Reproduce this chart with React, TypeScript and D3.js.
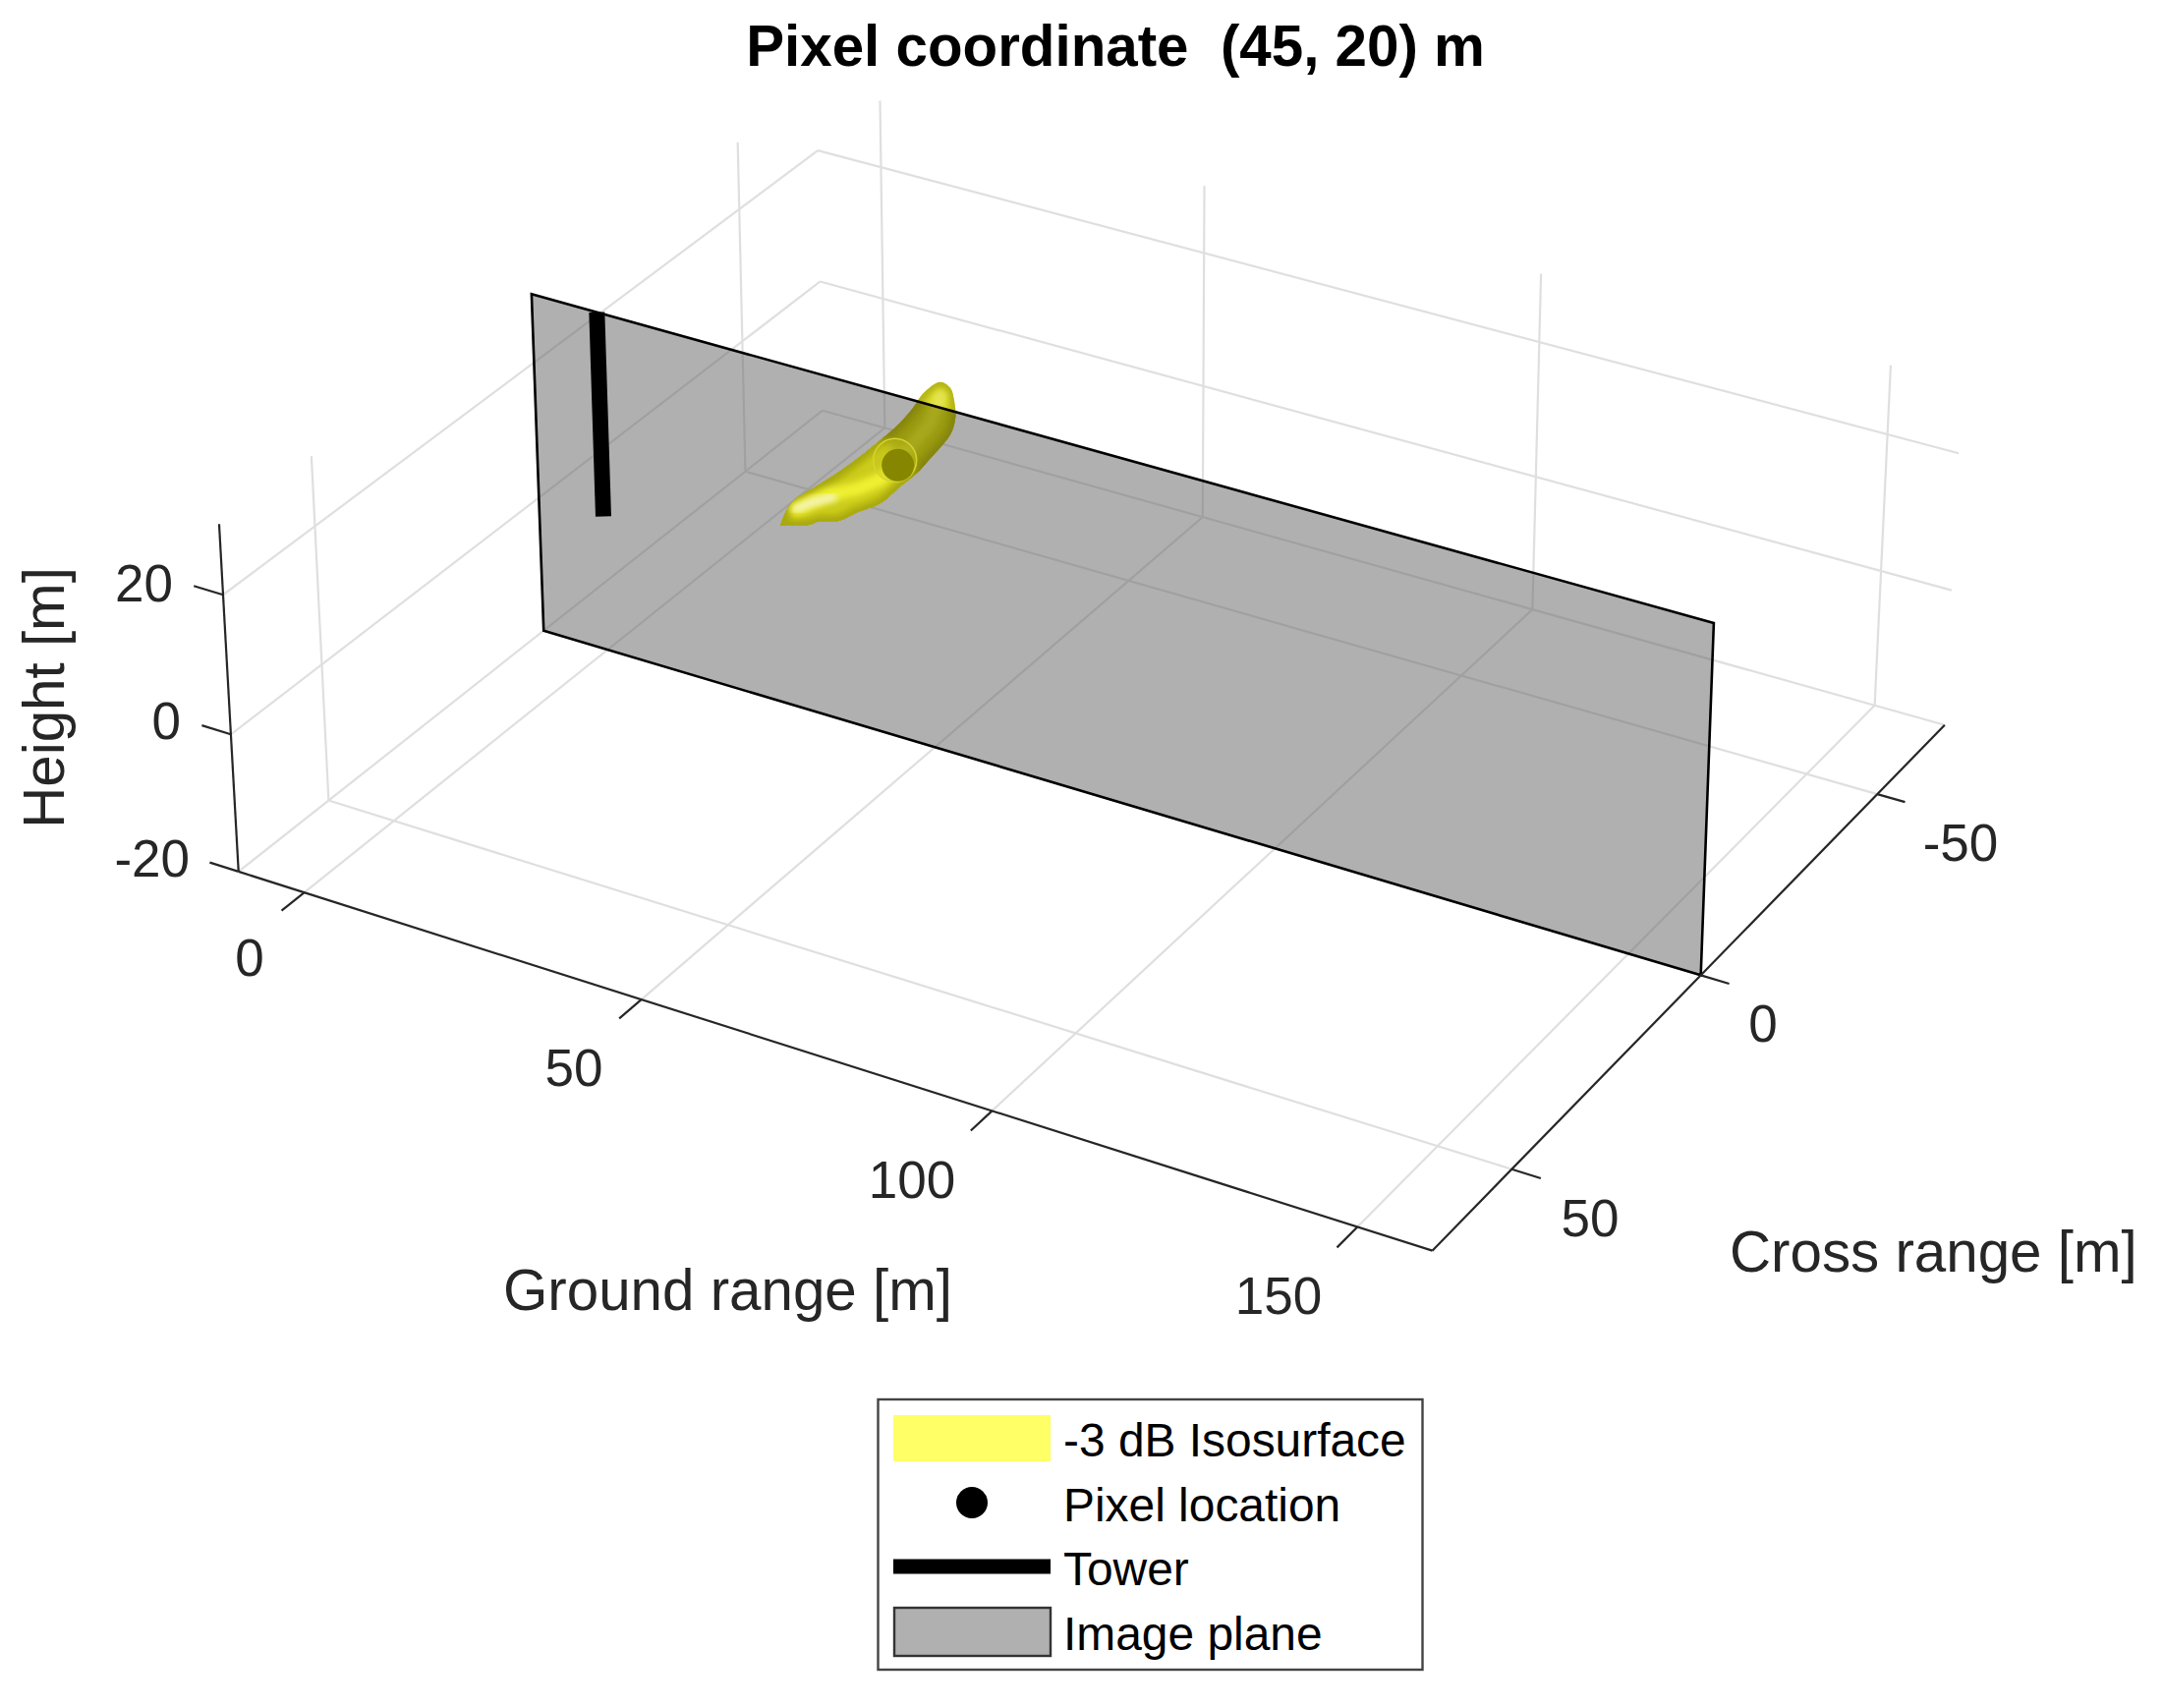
// @ts-nocheck
import { curveCatmullRomClosed, line, range, scaleLinear } from "d3";

const xTicks = [0, 50, 100, 150];
const yTicks = [-50, 0, 50];
const zTicks = [-20, 0, 20];
const xLimits = [-10, 160];
const yLimits = [-70, 70];
const zLimits = [-20, 30];

const pixelLocation = [45, 0, 20];
const towerX = 0;
const towerHeights = [0, 30];
const planeY = 0;

// isosurface, as [ground range, height] on the image plane
// the tip is listed twice so the closed curve keeps it sharp
const bananaOutline = [
  [51.4, 33.7], [52.9, 33.2], [53.4, 31.7], [53.6, 29.3], [52.9, 26.7], [51.4, 24.4],
  [49.6, 22.0], [47.8, 19.6], [45.3, 17.0], [42.4, 13.8], [38.8, 11.4], [36.0, 9.4],
  [32.8, 8.4], [31.8, 7.7], [27.2, 6.3], [27.2, 6.3], [28.2, 8.8], [29.2, 10.4], [32.8, 13.6],
  [36.3, 16.7], [39.8, 20.1], [42.8, 23.3], [45.3, 26.1], [47.3, 28.8], [48.9, 31.4],
];
const bananaRidge = [
  [29.7, 9.4], [34.2, 12.6], [38.8, 14.8], [42.4, 17.2], [46.9, 23.2], [49.8, 27.3], [51.4, 31.6],
];
const bananaGlint = [[29.7, 9.4], [32, 11], [35.2, 12.6]];
const bananaFront = [[20, 0], [50, 0], [47.8, 19.6], [42.8, 23.3], [20, 34]];

const legendLabels = ["-3 dB Isosurface", "Pixel location", "Tower", "Image plane"];

// box corners and where they land in the picture, used to fit the camera
const cameraFit = [
  [-10, 70, -20, 243, 887],
  [160, 70, -20, 1457, 1273],
  [160, -70, -20, 1979, 737],
  [-10, -70, -20, 837, 418],
  [-10, 70, 30, 223, 533],
  [-10, 0, -20, 553, 642],
  [-10, 0, 30, 541, 299],
  [160, 0, -20, 1731, 992],
  [160, 0, 30, 1744, 634],
  [160, -70, 20, 1993, 462],
  [-10, -70, 20, 832, 153],
];

const xNorm = scaleLinear().domain(xLimits).range([0, 1]);
const yNorm = scaleLinear().domain(yLimits).range([0, 1]);
const zNorm = scaleLinear().domain(zLimits).range([0, 1]);

const solve = (A, b) => {
  const n = b.length;
  const m = A.map((row, i) => [...row, b[i]]);
  for (let c = 0; c < n; c++) {
    let p = c;
    for (let r = c + 1; r < n; r++) if (Math.abs(m[r][c]) > Math.abs(m[p][c])) p = r;
    [m[c], m[p]] = [m[p], m[c]];
    for (let r = 0; r < n; r++) {
      if (r === c) continue;
      const f = m[r][c] / m[c][c];
      for (let k = c; k <= n; k++) m[r][k] -= f * m[c][k];
    }
  }
  return m.map((row, i) => row[n] / row[i]);
};

const fitCamera = () => {
  const rows = [];
  const rhs = [];
  cameraFit.forEach(([x, y, z, px, py]) => {
    const u = xNorm(x), v = yNorm(y), w = zNorm(z);
    const sx = px / 1000, sy = py / 1000;
    rows.push([1, u, v, w, 0, 0, 0, 0, -u * sx, -v * sx, -w * sx]);
    rhs.push(sx);
    rows.push([0, 0, 0, 0, 1, u, v, w, -u * sy, -v * sy, -w * sy]);
    rhs.push(sy);
  });
  const idx = range(11);
  const AtA = idx.map((i) => idx.map((j) => rows.reduce((s, r) => s + r[i] * r[j], 0)));
  const Atb = idx.map((i) => rows.reduce((s, r, k) => s + r[i] * rhs[k], 0));
  return solve(AtA, Atb);
};

const cam = fitCamera();

const project = ([x, y, z]) => {
  const u = xNorm(x), v = yNorm(y), w = zNorm(z);
  const d = 1 + cam[8] * u + cam[9] * v + cam[10] * w;
  return [
    (1000 * (cam[0] + cam[1] * u + cam[2] * v + cam[3] * w)) / d,
    (1000 * (cam[4] + cam[5] * u + cam[6] * v + cam[7] * w)) / d,
  ];
};

const path = line();
const smoothClosed = line().curve(curveCatmullRomClosed.alpha(0.5));
const path3d = (pts) => path(pts.map(project));
const onPlane = (pts) => pts.map(([x, z]) => [x, planeY, z]);

const [x0, x1] = xLimits;
const [y0, y1] = yLimits;
const [z0, z1] = zLimits;

const gridLines = [
  ...xTicks.map((x) => [[x, y0, z0], [x, y1, z0]]),
  ...yTicks.map((y) => [[x0, y, z0], [x1, y, z0]]),
  ...zTicks.map((z) => [[x0, y0, z], [x0, y1, z]]),
  ...yTicks.map((y) => [[x0, y, z0], [x0, y, z1]]),
  ...xTicks.map((x) => [[x, y0, z0], [x, y0, z1]]),
  ...zTicks.map((z) => [[x0, y0, z], [x1, y0, z]]),
];

const axisLines = [
  [[x0, y1, z0], [x1, y1, z0]],
  [[x1, y1, z0], [x1, y0, z0]],
  [[x0, y1, z0], [x0, y1, z1]],
];

const tickLines = [
  ...xTicks.map((x) => [[x, y1, z0], [x, y1 + 5, z0]]),
  ...yTicks.map((y) => [[x1, y, z0], [x1 + 3.9, y, z0]]),
  ...zTicks.map((z) => [[x0, y1, z], [x0 - 4.4, y1, z]]),
];

const planeCorners = [
  [x0, planeY, z0], [x1, planeY, z0], [x1, planeY, z1], [x0, planeY, z1],
];

const ink = "#262626";
const sans = "'Liberation Sans', Arial, sans-serif";
const tickSize = 53;
const labelSize = 58.3;
const legendSize = 47.9;

const tickTexts = [
  { t: "0", x: 254, y: 993, a: "middle" },
  { t: "50", x: 584, y: 1105, a: "middle" },
  { t: "100", x: 928, y: 1219, a: "middle" },
  { t: "150", x: 1301, y: 1337, a: "middle" },
  { t: "-50", x: 1995, y: 876, a: "middle" },
  { t: "0", x: 1794, y: 1060, a: "middle" },
  { t: "50", x: 1618, y: 1258, a: "middle" },
  { t: "20", x: 176, y: 612, a: "end" },
  { t: "0", x: 184, y: 752, a: "end" },
  { t: "-20", x: 193, y: 892, a: "end" },
];

const Banana = ({ id, base, edge, ridge, glint }) => {
  const outline = smoothClosed(onPlane(bananaOutline).map(project));
  return (
    <g>
      <clipPath id={`${id}-clip`}>
        <path d={outline} />
      </clipPath>
      <path d={outline} fill={base} />
      <g clipPath={`url(#${id}-clip)`}>
        <path d={outline} fill="none" stroke={edge} strokeWidth="12" filter="url(#soft)" />
        <path d={path3d(onPlane(bananaRidge))} fill="none" stroke={ridge} strokeWidth="14" strokeLinecap="round" filter="url(#soft)" />
        <path d={path3d(onPlane(bananaGlint))} fill="none" stroke={glint} strokeWidth="8" strokeLinecap="round" filter="url(#soft)" />
      </g>
    </g>
  );
};

export default function App() {
  const dot = project(pixelLocation);
  const plane = path3d(planeCorners) + "Z";
  return (
    <svg
      width={2201}
      height={1738}
      viewBox="0 0 2201 1738"
      style={{ position: "absolute", left: 0, top: 0, display: "block", background: "#fff" }}
      fontFamily={sans}
    >
      <defs>
        <filter id="soft" x="-30%" y="-30%" width="160%" height="160%">
          <feGaussianBlur stdDeviation="3" />
        </filter>
        <filter id="softer" x="-30%" y="-30%" width="160%" height="160%">
          <feGaussianBlur stdDeviation="6" />
        </filter>
        <mask id="front-mask" maskUnits="userSpaceOnUse" x="0" y="0" width="2201" height="1738">
          <path d={path3d(onPlane(bananaFront)) + "Z"} fill="#fff" filter="url(#softer)" />
        </mask>
        <clipPath id="plane-clip">
          <path d={plane} />
        </clipPath>
      </defs>

      <g fill="none" stroke="#dfdfdf" strokeWidth="2.2">
        {gridLines.map((d, i) => (
          <path key={i} d={path3d(d)} />
        ))}
      </g>

      {/* tip above the plane stays bright, the rest of the back half is seen through it */}
      <Banana id="tip" base="#d6d622" edge="#b4b414" ridge="#e4e450" glint="#e8e850" />
      <path d={plane} fill="#616161" fillOpacity="0.5" stroke="none" />
      <g clipPath="url(#plane-clip)">
        <Banana id="rear" base="#9a9a12" edge="#85850a" ridge="#a8a81a" glint="#a8a81a" />
      </g>
      <path d={plane} fill="none" stroke="#000" strokeWidth="2.6" />

      <g mask="url(#front-mask)">
        <Banana id="front" base="#cccc1c" edge="#a8a80e" ridge="#f0f030" glint="#f4f4c0" />
      </g>

      <circle cx={dot[0] - 3} cy={dot[1] - 5} r={22} fill="#c4c41c" fillOpacity="0.35" stroke="#d4d430" strokeWidth="1.5" />
      <circle cx={dot[0]} cy={dot[1]} r={16.5} fill="#868600" />

      <path d={path3d([[towerX, planeY, towerHeights[0]], [towerX, planeY, towerHeights[1]]])} stroke="#000" strokeWidth="16" fill="none" />

      <g fill="none" stroke={ink} strokeWidth="2.2">
        {axisLines.map((d, i) => (
          <path key={i} d={path3d(d)} />
        ))}
        {tickLines.map((d, i) => (
          <path key={i} d={path3d(d)} />
        ))}
      </g>

      <text x={1135} y={67} textAnchor="middle" fontSize={labelSize} fontWeight="bold" fill="#000" style={{ whiteSpace: "pre" }}>
        {"Pixel coordinate  (45, 20) m"}
      </text>

      <g fontSize={tickSize} fill={ink}>
        {tickTexts.map((d, i) => (
          <text key={i} x={d.x} y={d.y} textAnchor={d.a}>
            {d.t}
          </text>
        ))}
      </g>

      <g fontSize={labelSize} fill={ink}>
        <text x={512} y={1333}>Ground range [m]</text>
        <text x={1760} y={1294}>Cross range [m]</text>
        <text transform="translate(65,710) rotate(-90)" textAnchor="middle">Height [m]</text>
      </g>

      <rect x={893.5} y={1424} width={554} height={275} fill="#fff" stroke="#444" strokeWidth="2.4" />
      <rect x={909} y={1440} width={160} height={47} fill="#ffff66" />
      <circle cx={989} cy={1529} r={16} fill="#000" />
      <line x1={909} x2={1069} y1={1594} y2={1594} stroke="#000" strokeWidth="15" />
      <rect x={910} y={1636} width={159} height={49} fill="#b0b0b0" stroke="#333" strokeWidth="2.4" />
      <g fontSize={legendSize} fill="#000">
        {legendLabels.map((t, i) => (
          <text key={t} x={1082} y={1482 + i * 65.7}>
            {t}
          </text>
        ))}
      </g>
    </svg>
  );
}
